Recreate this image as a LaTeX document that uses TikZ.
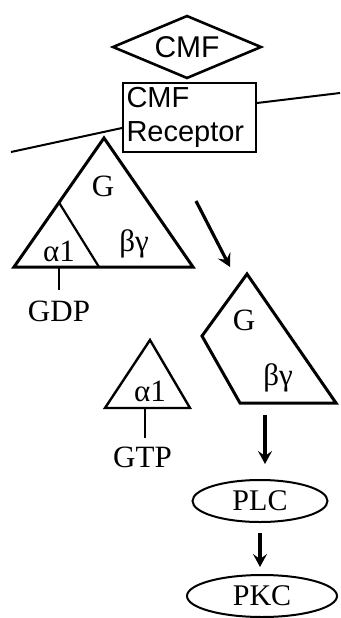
\documentclass[tikz,border=0pt]{standalone}
\usepackage{fontspec}
\setmainfont{Liberation Serif}
\setsansfont{Liberation Sans}
\usetikzlibrary{arrows.meta,positioning,calc,shapes.geometric}
\tikzset{
  lab/.style={font=\fontsize{31}{34}\selectfont, inner sep=0pt},
  sig/.style={draw, line width=2pt, font=\sffamily\fontsize{29}{34}\selectfont},
  enz/.style={draw, ellipse, line width=2pt, inner sep=0pt, minimum height=42pt,
              font=\fontsize{30}{32}\selectfont},
  subunit/.style={line width=3pt, line join=miter},
  memb/.style={line width=2pt},
  flow/.style={-{Stealth[length=13pt,width=14pt,inset=5pt]}, line width=3.2pt},
}

\begin{document}
\begin{tikzpicture}[x=1pt,y=-1pt]
  \useasboundingbox (0,0) rectangle (340,618);
  % ligand, receptor and membrane
  \node[sig, diamond, aspect=2.4, minimum width=149pt, minimum height=63pt, inner sep=0pt,
        line width=2.6pt, font=\sffamily\fontsize{30}{32}\selectfont] (cmf) at (187,47) {CMF};
  \node[sig, minimum width=133pt, minimum height=69pt, text width=126pt, inner sep=3pt,
        align=left] (rec) at (189.5,117.5) {CMF\\Receptor};
  \coordinate (mL1) at (11,152);
  \coordinate (mL2) at (rec.west |- 0,128);
  \coordinate (mR1) at (rec.east |- 0,103);
  \coordinate (mR2) at (340,93);
  \draw[memb] (mL1) -- (mL2);
  \draw[memb] (mR1) -- (mR2);
  % inactive G protein
  \coordinate (gtop) at (104,138);
  \coordinate (gleft) at (14,267);
  \coordinate (gright) at (193,267);
  \coordinate (gsplit) at ($(gtop)!0.5!(gleft)$);
  \coordinate (gfoot) at (99,267);
  \draw[subunit] (gtop) -- (gleft) -- (gright) -- cycle;
  \draw[line width=2.2pt] (gsplit) -- (gfoot);
  \node[lab] (gG) at (103,186) {G};
  \node[lab] (ga) at (59,251) {α1};
  \node[lab] (gbg) at (134,244) {βγ};
  \coordinate (gdpstem) at (59,267);
  \node[lab] (gdp) at (59,311) {GDP};
  \draw[line width=2.2pt] (gdpstem) -- ++(0,23);
  % activation
  \coordinate (act1) at (196,201);
  \coordinate (act2) at (230,267);
  \draw[flow] (act1) -- (act2);
  % free beta-gamma
  \coordinate (btop) at (247,274);
  \coordinate (bleft) at (202,336);
  \coordinate (bbl) at (240,403);
  \coordinate (bbr) at (336,403);
  \draw[subunit] (btop) -- (bleft) -- (bbl) -- (bbr) -- cycle;
  \node[lab] (bG) at (244,320) {G};
  \node[lab] (bbg) at (278,378) {βγ};
  % free alpha with GTP
  \coordinate (atop) at (150,340);
  \coordinate (aleft) at (105,408);
  \coordinate (aright) at (190,408);
  \draw[line width=2.4pt, line join=miter] (atop) -- (aleft) -- (aright) -- cycle;
  \node[lab] (aa) at (150,391) {α1};
  \coordinate (gtpstem) at (145,408);
  \node[lab] (gtp) at (142.5,457) {GTP};
  \draw[line width=2.2pt] (gtpstem) -- ++(0,30);
  % downstream
  \node[enz, minimum width=135pt] (plc) at (260,501) {PLC};
  \node[enz, minimum width=150pt] (pkc) at (262,596) {PKC};
  \coordinate (bout) at (265,403);
  \draw[flow, shorten <=12pt, shorten >=15pt] (bout) -- (bout |- plc.north);
  \draw[flow, shorten <=10pt, shorten >=7pt] (plc.south) -- (plc.south |- pkc.north);
\end{tikzpicture}
\end{document}
